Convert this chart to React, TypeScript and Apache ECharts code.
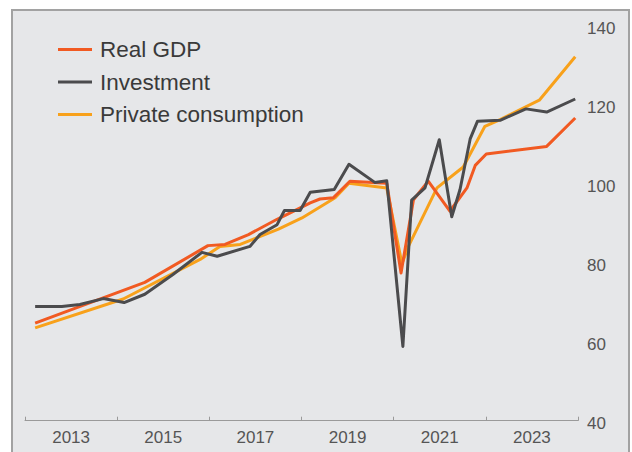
import React, { useEffect, useRef } from "react";
import * as echarts from "echarts";

const seriesNames = ["Real GDP", "Investment", "Private consumption"];
const seriesColors = ["#F15A22", "#4B4B4D", "#F8A11B"];

// Dates as fractional years, values as index levels
const gdpDates = [2012.22, 2014.6, 2015.97, 2016.34, 2016.85, 2017.46, 2018.19, 2018.4, 2018.69, 2019.05, 2019.85, 2020.16, 2020.43, 2020.75, 2021.22, 2021.59, 2021.77, 2022.01, 2023.32, 2023.94];
const gdpValues = [64.7, 75.0, 84.3, 84.6, 87.1, 90.9, 95.1, 96.1, 96.4, 100.6, 100.1, 77.4, 95.9, 100.6, 93.0, 98.9, 104.6, 107.5, 109.4, 116.6];

const invDates = [2012.22, 2012.8, 2013.19, 2013.7, 2014.15, 2014.6, 2015.21, 2015.84, 2016.17, 2016.88, 2017.1, 2017.47, 2017.63, 2017.97, 2018.19, 2018.71, 2019.03, 2019.59, 2019.85, 2020.2, 2020.39, 2020.68, 2020.99, 2021.26, 2021.44, 2021.66, 2021.82, 2022.31, 2022.87, 2023.32, 2023.94];
const invValues = [68.9, 68.9, 69.4, 70.9, 69.9, 72.0, 77.0, 82.6, 81.6, 84.1, 87.1, 89.6, 93.2, 93.2, 97.8, 98.5, 104.9, 100.3, 100.7, 58.8, 95.8, 98.9, 111.1, 91.6, 98.5, 111.3, 115.8, 116.0, 118.9, 118.1, 121.4];

const pcDates = [2012.22, 2014.13, 2015.8, 2016.23, 2016.67, 2017.5, 2018.01, 2018.73, 2019.03, 2019.85, 2020.18, 2020.32, 2020.94, 2021.51, 2021.98, 2022.31, 2023.16, 2023.94];
const pcValues = [63.5, 70.8, 80.8, 84.1, 84.6, 88.5, 91.3, 96.4, 100.1, 98.9, 79.7, 84.1, 98.9, 104.2, 114.5, 116.2, 121.1, 132.1];

const xLabelYears = [2013, 2015, 2017, 2019, 2021, 2023];
const xTickYears = [2012, 2014, 2016, 2018, 2020, 2022, 2024];
const yTicks = [40, 60, 80, 100, 120, 140];

const FONT = "'Liberation Sans', Arial, Helvetica, sans-serif";

function pairs(dates: number[], values: number[]) {
  return dates.map((d, i) => [d, values[i]]);
}

export default function App() {
  const ref = useRef<HTMLDivElement>(null);

  useEffect(() => {
    const chart = echarts.init(ref.current!, null, { renderer: "svg" });
    const xMin = xTickYears[0];
    const xMax = xTickYears[xTickYears.length - 1];
    const yMin = yTicks[0];
    const yMax = yTicks[yTicks.length - 1];

    const lineSeries = (idx: number, dates: number[], values: number[], z: number) => ({
      name: seriesNames[idx],
      type: "line",
      xAxisIndex: 0,
      yAxisIndex: 0,
      data: pairs(dates, values),
      showSymbol: false,
      symbol: "none",
      z,
      lineStyle: { color: seriesColors[idx], width: 3, join: "round" },
      itemStyle: { color: seriesColors[idx] },
    });

    chart.setOption({
      animation: false,
      backgroundColor: "#FFFFFF",
      textStyle: { fontFamily: FONT },
      graphic: [
        {
          type: "rect",
          z: -10,
          silent: true,
          shape: { x: 12, y: 10, width: 617, height: 460 },
          style: { fill: "#E6E7E9", stroke: "#A2A2A2", lineWidth: 2 },
        },
      ],
      legend: {
        orient: "vertical",
        left: 58,
        top: 38,
        padding: 0,
        icon: "rect",
        itemWidth: 34,
        itemHeight: 3,
        itemGap: 9.5,
        data: seriesNames,
        textStyle: { fontFamily: FONT, fontSize: 22.5, color: "#3A3A3A", padding: [0, 0, 0, 3] },
      },
      grid: { left: 25, right: 54, top: 25.5, bottom: 31.3, containLabel: false },
      xAxis: [
        {
          type: "value",
          min: xMin,
          max: xMax,
          interval: 1,
          position: "bottom",
          axisLine: { show: true, lineStyle: { color: "#9A9A9A", width: 1 } },
          axisTick: { show: false },
          splitLine: { show: false },
          axisLabel: {
            show: true,
            margin: 8,
            fontFamily: FONT,
            fontSize: 17,
            color: "#555555",
            formatter: (v: number) => (xLabelYears.includes(Math.round(v)) ? String(Math.round(v)) : ""),
          },
        },
        {
          type: "value",
          min: xMin,
          max: xMax,
          interval: 2,
          position: "bottom",
          axisLine: { show: false },
          axisTick: { show: true, inside: true, length: 4, lineStyle: { color: "#9A9A9A", width: 1 } },
          splitLine: { show: false },
          axisLabel: { show: false },
        },
      ],
      yAxis: {
        type: "value",
        position: "right",
        min: yMin,
        max: yMax,
        interval: 20,
        axisLine: { show: false },
        axisTick: { show: false },
        splitLine: { show: false },
        axisLabel: {
          margin: 9,
          fontFamily: FONT,
          fontSize: 17,
          color: "#555555",
          verticalAlign: "top",
          lineHeight: 6,
        },
      },
      series: [
        lineSeries(2, pcDates, pcValues, 2),
        lineSeries(0, gdpDates, gdpValues, 3),
        lineSeries(1, invDates, invValues, 4),
      ],
    });

    return () => chart.dispose();
  }, []);

  return (
    <div
      ref={ref}
      style={{ position: "fixed", left: 0, top: 0, width: 632, height: 452 }}
    />
  );
}
